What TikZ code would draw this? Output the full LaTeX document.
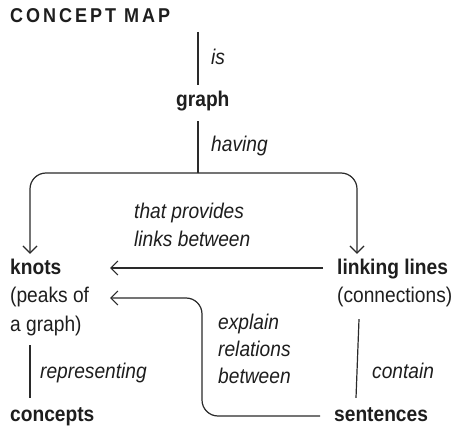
\documentclass[tikz,border=0pt]{standalone}
\usepackage{fontspec}
\setmainfont{Liberation Sans}[FakeStretch=0.9]
\newfontfamily\titlefont{Liberation Sans}[FakeStretch=0.9,LetterSpace=15]
\usetikzlibrary{arrows.meta}
\definecolor{ink}{HTML}{1E1E1E}
\definecolor{linec}{HTML}{2A2A2A}
\begin{document}
\begin{tikzpicture}[x=1pt,y=-1pt,
  every node/.style={inner sep=0pt, anchor=base west, text=ink, text height=14pt, text depth=4pt},
  concept/.style={font=\fontsize{21.3}{25}\selectfont\bfseries},
  plaintxt/.style={font=\fontsize{21.3}{25}\selectfont},
  lab/.style={font=\fontsize{21.3}{25}\selectfont\itshape},
  titletxt/.style={font=\fontsize{20}{24}\selectfont\titlefont\bfseries},
  link/.style={draw=linec, line width=1.2pt},
  arr/.style={link, -{Straight Barb[length=7pt,width=14pt,line width=1.2pt]}}]
\fill[white] (0,0) rectangle (460,427);
\useasboundingbox (0,0) rectangle (460,427);

\node[titletxt] (title) at (10,23) {CONCEPT MAP};

\node[concept] (graph) at (176,107) {graph};
\node[concept] (knots) at (10,275) {knots};
\node[plaintxt] (peaks) at (10,303) {(peaks of};
\node[plaintxt] (agraph) at (10,331) {a graph)};
\node[concept] (concepts) at (10,421) {concepts};
\node[concept] (linking) at (337,275) {linking lines};
\node[plaintxt] (connx) at (337,303) {(connections)};
\node[concept] (sentences) at (334,421) {sentences};

\node[lab] (is) at (211,65) {is};
\node[lab] (having) at (211,152) {having};
\node[lab] (tp1) at (134,219) {that provides};
\node[lab] (tp2) at (134,246.5) {links between};
\node[lab] (ex1) at (218,329) {explain};
\node[lab] (ex2) at (218,356) {relations};
\node[lab] (ex3) at (218,383) {between};
\node[lab] (repr) at (40,378) {representing};
\node[lab] (contain) at (372,378) {contain};

\coordinate (top) at (198,32);
\coordinate (split) at (198,173);

\draw[link] (top) -- ([yshift=8pt]graph.north -| top);
\draw[link] ([yshift=-10pt]graph.south -| split) -- (split);
\draw[arr, rounded corners=16pt, shorten >=7pt] (split) -| ([xshift=20pt]knots.north west);
\draw[arr, rounded corners=16pt, shorten >=7pt] (split) -| ([xshift=20pt]linking.north west);

\draw[arr] ([xshift=-14pt,yshift=2pt]linking.west) -- ([xshift=100pt,yshift=2pt]knots.west);
\draw[arr, rounded corners=16pt] ([xshift=-14pt]sentences.west) -| ([xshift=192pt]peaks.west) -- ([xshift=100pt]peaks.west);

\draw[link] ([xshift=20pt,yshift=-10pt]agraph.south west) -- ([xshift=20pt,yshift=9pt]concepts.north west);
\draw[link] ([xshift=22pt,yshift=-12pt]connx.south west) -- ([xshift=22pt,yshift=9pt]sentences.north west);
\end{tikzpicture}
\end{document}
